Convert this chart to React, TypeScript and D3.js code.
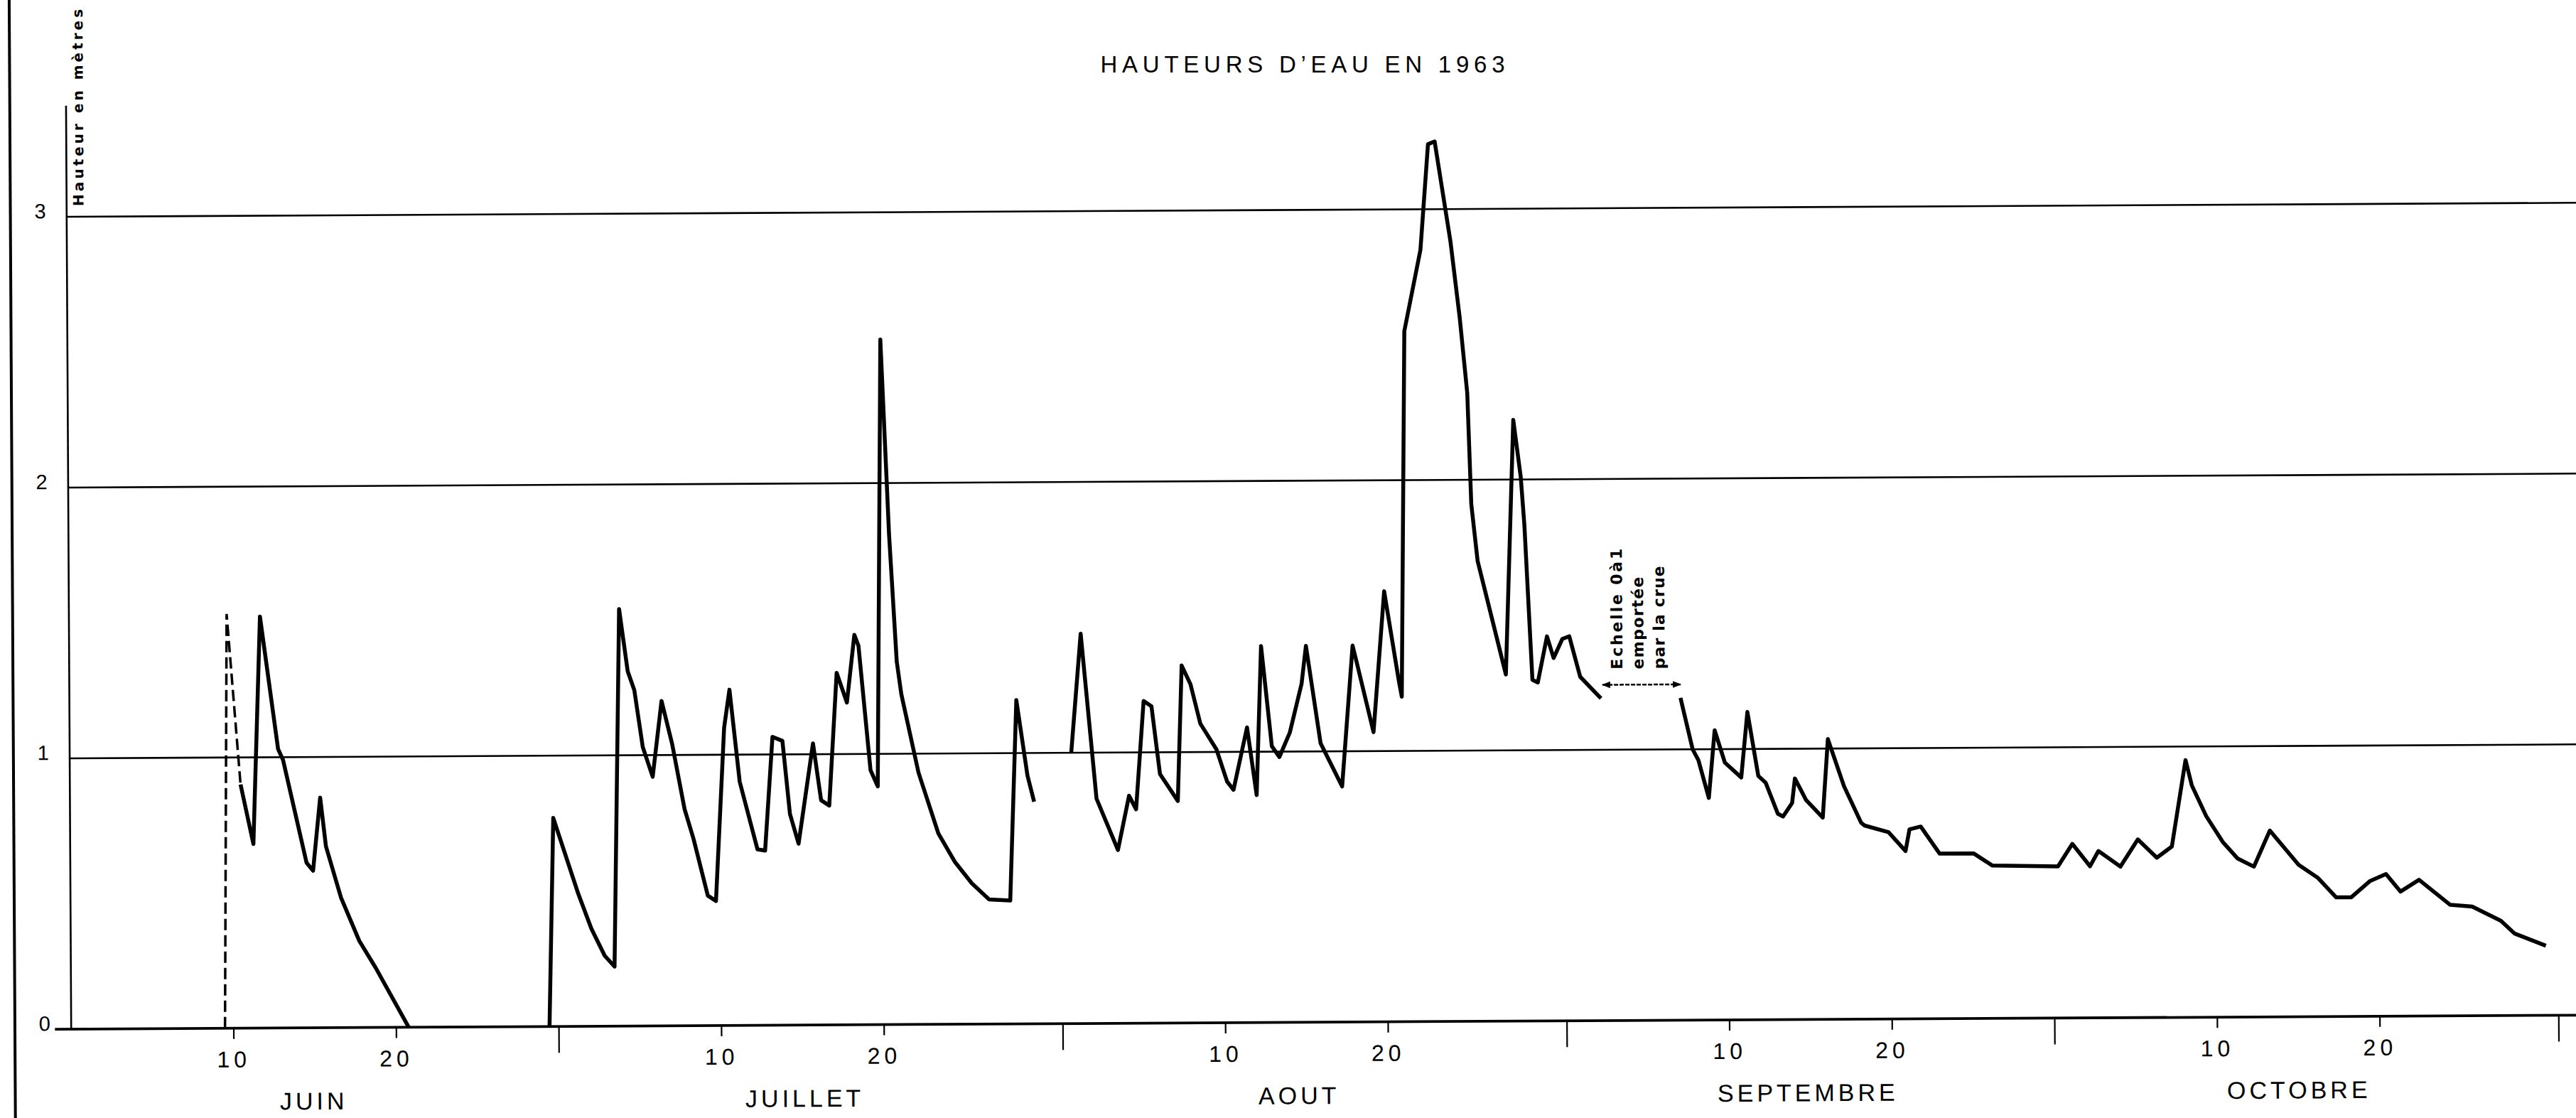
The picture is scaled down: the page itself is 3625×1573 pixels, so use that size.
import * as d3 from "d3";

// water heights 1963, [day counted from 1 June = 1, metres]
const junDashed: [number, number][] = [
  [9.46, 0], [9.7, 1.53], [10.5, 0.9],
];
const junSolid: [number, number][] = [
  [10.5, 0.9], [11.27, 0.68], [11.75, 1.52], [12.82, 1.03], [13.12, 0.99], [14.53, 0.61],
  [14.93, 0.58], [15.39, 0.85], [15.73, 0.67], [16.64, 0.48], [17.75, 0.32], [18.75, 0.22],
  [20.76, 0],
];
const julSolid: [number, number][] = [
  [29.42, 0], [29.72, 0.77], [31.23, 0.49], [32.03, 0.36], [32.84, 0.26], [33.44, 0.22],
  [33.84, 1.54], [34.35, 1.31], [34.75, 1.24], [35.25, 1.03], [35.85, 0.92], [36.42, 1.2],
  [37.06, 1.04], [37.8, 0.8], [38.34, 0.69], [39.2, 0.48], [39.7, 0.46], [40.26, 1.1],
  [40.6, 1.24], [41.2, 0.9], [42.27, 0.65], [42.74, 0.645], [43.23, 1.065], [43.84, 1.05],
  [44.28, 0.78], [44.8, 0.67], [45.72, 1.04], [46.2, 0.83], [46.7, 0.81], [47.2, 1.3],
  [47.82, 1.19], [48.3, 1.44], [48.55, 1.4], [49.25, 0.94], [49.69, 0.88], [50.0, 2.53],
  [50.47, 1.81], [50.9, 1.34], [51.17, 1.22], [52.2, 0.93], [53.4, 0.705], [54.4, 0.6],
  [55.44, 0.52], [56.5, 0.46], [57.8, 0.456], [58.24, 1.196], [58.9, 0.917], [59.3, 0.82],
];
const augSolid: [number, number][] = [
  [61.6, 1.0], [62.22, 1.44], [63.14, 0.83], [64.44, 0.64], [65.14, 0.84], [65.57, 0.79],
  [66.07, 1.19], [66.55, 1.17], [67.05, 0.92], [68.14, 0.82], [68.42, 1.32], [68.96, 1.25],
  [69.55, 1.105], [70.53, 1.01], [71.18, 0.89], [71.57, 0.86], [72.42, 1.09], [72.99, 0.84],
  [73.31, 1.39], [73.94, 1.02], [74.4, 0.98], [75.05, 1.07], [75.79, 1.25], [76.07, 1.39],
  [76.94, 1.03], [78.25, 0.87], [78.94, 1.39], [79.18, 1.33], [80.2, 1.07], [80.9, 1.59],
  [81.77, 1.26], [81.95, 1.2], [82.23, 2.55], [83.25, 2.85], [83.75, 3.24], [84.16, 3.25],
  [85.1, 2.88], [85.64, 2.6], [86.08, 2.32], [86.29, 1.91], [86.66, 1.7], [88.36, 1.28],
  [88.9, 2.22], [89.34, 2.01], [89.55, 1.83], [89.99, 1.26], [90.32, 1.25], [90.9, 1.42],
  [91.3, 1.34], [91.84, 1.41], [92.27, 1.42], [92.93, 1.27], [94.2, 1.19],
];
const sepOctSolid: [number, number][] = [
  [99.09, 1.19], [99.82, 1.0], [100.17, 0.96], [100.8, 0.82], [101.18, 1.07], [101.8, 0.95],
  [102.8, 0.895], [103.2, 1.137], [103.85, 0.9], [104.3, 0.875], [105.04, 0.76], [105.36, 0.75],
  [105.92, 0.8], [106.1, 0.89], [106.78, 0.81], [107.8, 0.745], [108.14, 1.035], [109.12, 0.86],
  [110.16, 0.725], [110.37, 0.715], [111.84, 0.69], [112.88, 0.62], [113.13, 0.7], [113.82, 0.71],
  [114.97, 0.61], [117.06, 0.61], [118.2, 0.565], [122.25, 0.56], [123.14, 0.643], [124.22, 0.56],
  [124.74, 0.616], [126.09, 0.558], [127.17, 0.658], [128.33, 0.59], [129.26, 0.631], [130.13, 0.95],
  [130.51, 0.856], [131.38, 0.743], [132.39, 0.647], [133.29, 0.586], [134.3, 0.555], [135.29, 0.688],
  [137.05, 0.561], [138.24, 0.512], [139.35, 0.44], [140.28, 0.44], [141.42, 0.499], [142.42, 0.525],
  [143.31, 0.46], [144.45, 0.503], [146.36, 0.41], [147.71, 0.403], [149.47, 0.35], [150.3, 0.303],
  [152.23, 0.257],
];

const yTicks = [0, 1, 2, 3];
const dayTicks = [10, 20, 40, 50, 71, 81, 102, 112, 132, 142];
const dayTickLabels = ["10", "20", "10", "20", "10", "20", "10", "20", "10", "20"];
const monthEnds = [30, 61, 92, 122, 153];
const months = ["JUIN", "JUILLET", "AOUT", "SEPTEMBRE", "OCTOBRE"];
const monthMid = [14.9, 45.1, 75.5, 106.8, 137.0];

// gauge washed away: gap in the record
const gapFrom = 94.3;
const gapTo = 99.1;
const gapLevel = 1.24;
const gapNote = ["Echelle 0à1", "emportée", "par la crue"];
const gapNoteDays = [95.2, 96.5, 97.8];

const W = 3625;
const H = 1573;

export default function App() {
  const x = d3.scaleLinear().domain([0, 153]).range([100.2, 100.2 + 22.88 * 153]);
  const y = d3.scaleLinear().domain([0, 3.41]).range([1448, 1448 - 3.41 * 381]);
  const line = d3
    .line<[number, number]>()
    .x((d) => x(d[0]))
    .y((d) => y(d[1]));

  const font = "'Liberation Sans', Arial, sans-serif";
  const solid = [junSolid, julSolid, augSolid, sepOctSolid];

  return (
    <svg
      width={W}
      height={H}
      style={{ position: "absolute", left: 0, top: 0, background: "#fff" }}
    >
      <defs>
        <marker id="ah" viewBox="0 0 10 10" refX="9" refY="5" markerWidth="14" markerHeight="12"
          markerUnits="userSpaceOnUse" orient="auto-start-reverse">
          <path d="M0,1 L10,5 L0,9 z" fill="#000" />
        </marker>
      </defs>

      <text x={1833} y={102} textAnchor="middle" fontFamily={font} fontSize={33}
        textLength={569} lengthAdjust="spacing">
        HAUTEURS D’EAU EN 1963
      </text>

      <g transform={`rotate(-0.32 ${x(0)} ${y(0)})`}>
        {/* page edge */}
        <line x1={21} x2={21} y1={-20} y2={H + 20} stroke="#000" strokeWidth={4} />

        {/* grid */}
        {yTicks.slice(1).map((t) => (
          <line key={t} x1={x(0)} x2={W + 20} y1={y(t)} y2={y(t)} stroke="#000" strokeWidth={2.6} />
        ))}
        {yTicks.map((t) => (
          <text key={t} x={71} y={y(t) + 2} textAnchor="end" fontFamily={font} fontSize={29}>
            {t}
          </text>
        ))}

        {/* axes */}
        <line x1={x(0)} x2={x(0)} y1={y(0)} y2={y(3.41)} stroke="#000" strokeWidth={2.6} />
        <line x1={x(-1)} x2={W + 20} y1={y(0)} y2={y(0)} stroke="#000" strokeWidth={3.8} />
        {dayTicks.map((d, i) => (
          <g key={d}>
            <line x1={x(d)} x2={x(d)} y1={y(0)} y2={y(0) + 15} stroke="#000" strokeWidth={2.2} />
            <text x={x(d)} y={y(0) + 55} textAnchor="middle" fontFamily={font} fontSize={32}
              letterSpacing={6}>
              {dayTickLabels[i]}
            </text>
          </g>
        ))}
        {monthEnds.map((d) => (
          <line key={d} x1={x(d)} x2={x(d)} y1={y(0)} y2={y(0) + 37} stroke="#000" strokeWidth={2.2} />
        ))}
        {months.map((m, i) => (
          <text key={m} x={x(monthMid[i])} y={y(0) + 115} textAnchor="middle" fontFamily={font}
            fontSize={34} letterSpacing={5}>
            {m}
          </text>
        ))}

        <text transform={`translate(117,290) rotate(-90)`} dominantBaseline="central"
          fontFamily="'DejaVu Sans', sans-serif" fontWeight="bold" fontSize={20}
          textLength={277} lengthAdjust="spacing">
          Hauteur en mètres
        </text>

        {/* series */}
        <path d={line(junDashed) ?? ""} fill="none" stroke="#000" strokeWidth={3.5}
          strokeDasharray="16 7" />
        {solid.map((s, i) => (
          <path key={i} d={line(s) ?? ""} fill="none" stroke="#000" strokeWidth={5.5}
            strokeLinejoin="round" />
        ))}

        {/* gap note */}
        <line x1={x(gapFrom)} x2={x(gapTo)} y1={y(gapLevel)} y2={y(gapLevel)} stroke="#000"
          strokeWidth={2.5} strokeDasharray="6 2" markerStart="url(#ah)" markerEnd="url(#ah)" />
        {gapNote.map((t, i) => (
          <text key={t} transform={`translate(${x(gapNoteDays[i])},${y(1.297)}) rotate(-90)`}
            dominantBaseline="central" fontFamily="'DejaVu Sans', sans-serif" fontWeight="bold"
            fontSize={22} textLength={[170, 130, 145][i]} lengthAdjust="spacing">
            {t}
          </text>
        ))}
      </g>
    </svg>
  );
}
